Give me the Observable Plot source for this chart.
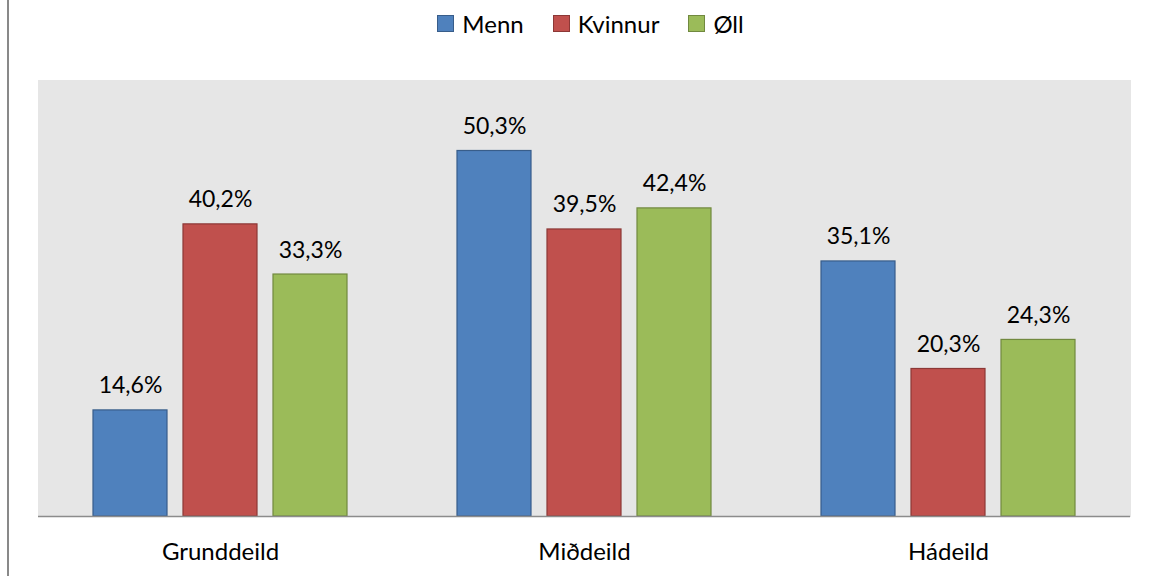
<!DOCTYPE html>
<html>
<head>
<meta charset="utf-8">
<script src="https://cdn.jsdelivr.net/npm/d3@7"></script>
<script src="https://cdn.jsdelivr.net/npm/@observablehq/plot@0.6"></script>
<style>
  html, body { margin: 0; padding: 0; background: #fff; }
  #wrap { position: relative; width: 1149px; height: 576px; overflow: hidden; font-family: Lato, "Open Sans", sans-serif; }
  #border { position: absolute; left: 7px; top: 0; width: 2px; height: 576px; background: #898989; }
  #legend { height: 50px; display: flex; justify-content: center; align-items: center; gap: 29px; padding-left: 32px; padding-bottom: 4px; box-sizing: border-box; font-size: 24px; color: #000; }
  .item { display: flex; align-items: center; }
  .sw { width: 15px; height: 15px; margin-right: 8px; border: 1px solid; }
  svg { display: block; }
</style>
</head>
<body>
<div id="wrap"><div id="border"></div><div id="legend"></div><div id="chart"></div></div>
<script>
const groups = ["Grunddeild", "Miðdeild", "Hádeild"];
const series = ["Menn", "Kvinnur", "Øll"];
const menn = [14.6, 50.3, 35.1];
const kvinnur = [40.2, 39.5, 20.3];
const oll = [33.3, 42.4, 24.3];
const fills = ["#4f81bd", "#c0504d", "#9bbb59"];
const strokes = ["#385d8a", "#8c3836", "#71893f"];

const values = [menn, kvinnur, oll];
const data = [];
groups.forEach((g, gi) => series.forEach((s, si) => data.push({group: g, series: s, value: values[si][gi]})));

const legend = document.getElementById("legend");
series.forEach((s, i) => {
  const it = document.createElement("div");
  it.className = "item";
  const sw = document.createElement("div");
  sw.className = "sw";
  sw.style.background = fills[i];
  sw.style.borderColor = strokes[i];
  const t = document.createElement("span");
  t.textContent = s;
  it.appendChild(sw); it.appendChild(t);
  legend.appendChild(it);
});

const fmt = v => v.toFixed(1).replace(".", ",") + "%";

const chart = Plot.plot({
  width: 1149,
  height: 526,
  marginLeft: 37,
  marginRight: 18,
  marginTop: 30,
  marginBottom: 60,
  style: {fontFamily: "Lato, 'Open Sans', sans-serif", fontSize: "23px", color: "#000", background: "transparent"},
  fx: {domain: groups, padding: 0, label: null},
  x: {domain: series, paddingInner: 0.177, paddingOuter: 0.603, axis: null},
  y: {domain: [0, 60], axis: null},
  color: {domain: series, range: fills},
  marks: [
    Plot.frame({fill: "#e6e6e6", stroke: "#e6e6e6", strokeWidth: 1}),
    Plot.barY(data, {fx: "group", x: "series", y: "value", fill: "series", stroke: d => strokes[series.indexOf(d.series)], strokeWidth: 1.2}),
    Plot.ruleY([0], {stroke: "#8c8c8c", strokeWidth: 1.5}),
    Plot.text(data, {fx: "group", x: "series", y: "value", text: d => fmt(d.value), lineAnchor: "bottom", dy: -17, fill: "#000"}),
    Plot.axisFx({anchor: "bottom", tickSize: 0, tickPadding: 26, label: null, fill: "#000", fontSize: 24})
  ]
});
document.getElementById("chart").appendChild(chart);
</script>
</body>
</html>
